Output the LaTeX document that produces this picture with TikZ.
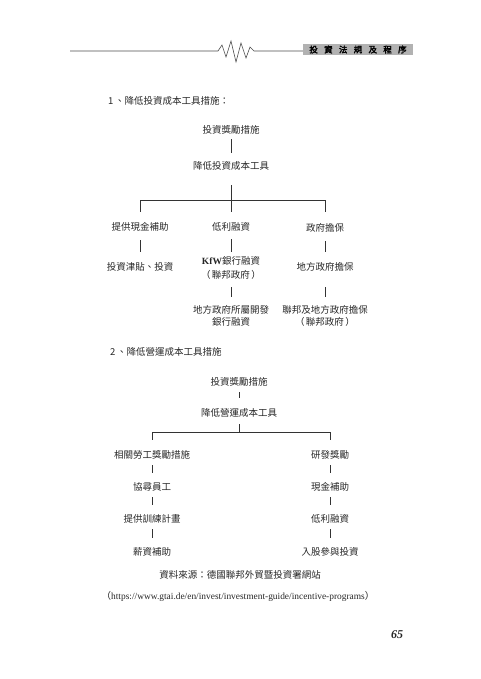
\documentclass[tikz,border=0pt]{standalone}
\usepackage{fontspec}
\setmainfont{Noto Sans CJK TC}
\newfontfamily\serifen{Liberation Serif}
\newfontfamily\cjkbold[FakeBold=2.5]{Noto Sans CJK TC}
\newcommand\hdrgap{\hspace{6.3pt}}
\newcommand\lpar{（\hspace{1.5pt}}
\newcommand\rpar{\hspace{1.5pt}）}
\begin{document}
\begin{tikzpicture}[x=1pt,y=-1pt,
  every node/.style={inner sep=0pt, text height=8pt, text depth=2pt,
    font=\fontsize{9.5}{11}\selectfont, text=black!85},
  link/.style={draw=black!80, line width=0.6pt},
  rule/.style={draw=black!70, line width=0.6pt}]
\useasboundingbox (0,0) rectangle (480,679);
% header
\draw[rule] (70,51) -- (218,51) -- (222,45) -- (226,57) -- (231,41) -- (236,62) -- (241,43) -- (246,58) -- (250,47) -- (254,51) -- (304,51);
\node[fill=black!30, minimum width=110pt, minimum height=11pt, text height=7pt, text depth=1.5pt, font=\fontsize{8.5}{10}\cjkbold, text=black] (hdr) at (358,50) {投\hdrgap 資\hdrgap 法\hdrgap 規\hdrgap 及\hdrgap 程\hdrgap 序};
% section 1
\node[anchor=west] (h1) at (108,102) {1\,、降低投資成本工具措施：};
\node (a) at (231,131) {投資獎勵措施};
\node (b) at (231,167) {降低投資成本工具};
\coordinate (j1) at (231,200);
\node (c1) at (140,227) {提供現金補助};
\node (c2) at (231,227) {低利融資};
\node (c3) at (325,228) {政府擔保};
\node (d1) at (140,267) {投資津貼、投資};
\node (d2) at (231,261) {{\serifen\bfseries KfW}銀行融資};
\node (d2b) at (231,275) {\lpar 聯邦政府\rpar};
\node (d3) at (325,267) {地方政府擔保};
\node (e2) at (231,310) {地方政府所屬開發};
\node (e2b) at (231,322) {銀行融資};
\node (e3) at (325,310) {聯邦及地方政府擔保};
\node (e3b) at (325,322) {\lpar 聯邦政府\rpar};
\draw[link, shorten <=3pt, shorten >=9pt] (a.south) -- (b.north);
\draw[link, shorten <=13pt] (b.south) -- (j1);
\draw[link, shorten >=10pt] (j1) -| (c1.north);
\draw[link, shorten >=10pt] (j1) -- (c2.north);
\draw[link, shorten >=11pt] (j1) -| (c3.north);
\draw[link, shorten <=8pt, shorten >=10pt] (c1.south) -- (d1.north);
\draw[link, shorten <=7pt, shorten >=4pt] (c2.south) -- (d2.north);
\draw[link, shorten <=8pt, shorten >=10pt] (c3.south) -- (d3.north);
\draw[link, shorten <=7pt, shorten >=8pt] (d2b.south) -- (e2.north);
\draw[link, shorten <=15pt, shorten >=8pt] (d3.south) -- (e3.north);
% section 2
\node[anchor=west] (h2) at (110,352) {2\,、降低營運成本工具措施};
\node (f) at (239,382) {投資獎勵措施};
\node (g) at (239,413) {降低營運成本工具};
\coordinate (j2) at (239,432);
\node (l1) at (152,455) {相關勞工獎勵措施};
\node (l2) at (152,487) {協尋員工};
\node (l3) at (152,519) {提供訓練計畫};
\node (l4) at (152,552) {薪資補助};
\node (r1) at (330,455) {研發獎勵};
\node (r2) at (330,487) {現金補助};
\node (r3) at (330,519) {低利融資};
\node (r4) at (330,552) {入股參與投資};
\draw[link, shorten <=5pt, shorten >=10pt] (f.south) -- (g.north);
\draw[link, shorten <=6pt] (g.south) -- (j2);
\draw[link, shorten >=10pt] (j2) -| (l1.north);
\draw[link, shorten >=10pt] (j2) -| (r1.north);
\foreach \u/\v in {l1/l2,l2/l3,l3/l4,r1/r2,r2/r3,r3/r4}
  \draw[link, shorten <=5pt, shorten >=9pt] (\u.south) -- (\v.north);
% source
\node (src) at (240,575) {資料來源：德國聯邦外貿暨投資署網站};
\node (url) at (238,596) {（{\serifen\fontsize{9.4}{11}\selectfont https://www.gtai.de/en/invest/investment-guide/incentive-programs}）};
\node (pg) at (397,635) {\fontsize{12}{14}\serifen\bfseries\itshape 65};
\end{tikzpicture}
\end{document}
